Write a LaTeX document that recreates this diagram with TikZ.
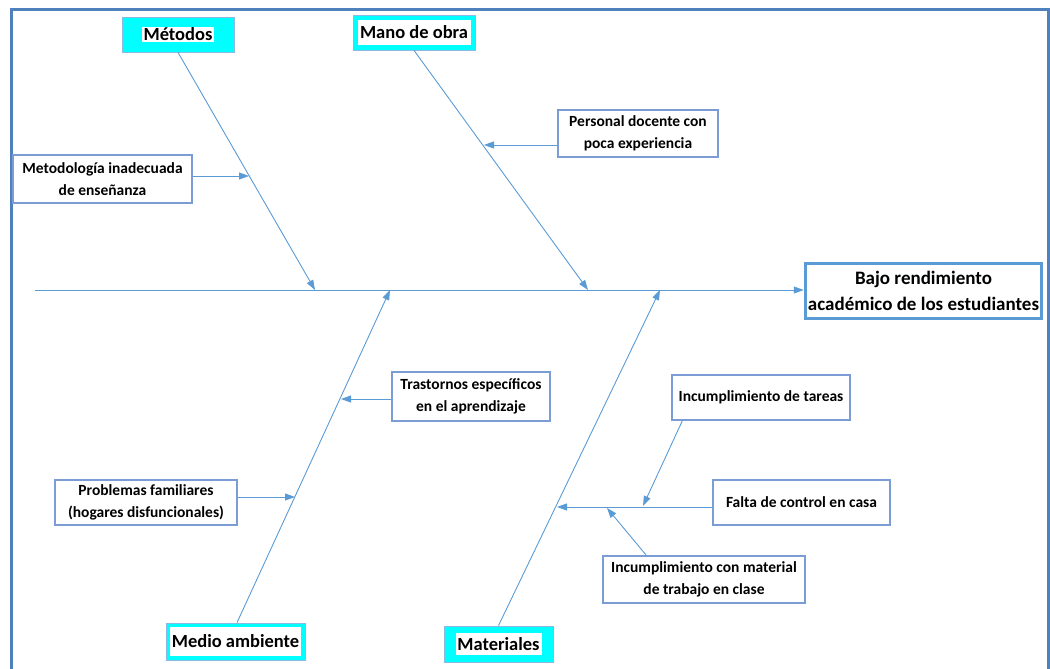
\documentclass[tikz,border=0pt]{standalone}
\usepackage{fontspec}
\setmainfont{Carlito}
\usetikzlibrary{arrows.meta,calc}
\definecolor{frameblue}{HTML}{4F81BD}
\definecolor{lineblue}{HTML}{5B9BD5}
\definecolor{boxblue}{HTML}{4472C4}
\definecolor{cyanfill}{HTML}{00FFFF}
\tikzset{
  bone/.style={draw=lineblue, line width=0.9pt},
  arr/.style={bone, -{Triangle[length=10pt,width=7pt]}},
  cause/.style={draw=boxblue!70, line width=1.2pt, fill=white, align=center,
    font=\bfseries\fontsize{15.5}{22}\selectfont, inner sep=0pt},
  catouter/.style={draw=lineblue!70, line width=0.8pt, fill=cyanfill, inner sep=0pt},
  catlabel/.style={fill=white, inner sep=1pt, font=\bfseries\fontsize{18.5}{20}\selectfont},
  effect/.style={draw=lineblue, line width=3.5pt, fill=white, align=center,
    font=\bfseries\fontsize{19}{26}\selectfont, inner sep=0pt}
}
\begin{document}
\begin{tikzpicture}[x=1pt,y=-1pt]
\useasboundingbox (0,0) rectangle (1050,669);
% frame
\draw[frameblue, line width=3pt] (11.5,669) -- (11.5,9.5) -- (1048,9.5) -- (1048,669);
% effect
\node[effect, minimum width=236pt, minimum height=55pt] (eff) at (923.5,291) {Bajo rendimiento\\académico de los estudiantes};
\coordinate (tail) at (35,290);
\draw[arr] (tail) -- (eff.west|-tail);
% categories
\node[catouter, minimum width=112pt, minimum height=35pt] (met) at (178,34.5) {};
\node[catlabel, inner xsep=2pt, inner ysep=1pt] at (met) {Métodos};
\node[catouter, minimum width=122pt, minimum height=35pt] (mano) at (414,32.5) {};
\node[catlabel, minimum width=113pt, minimum height=25pt] at (mano) {Mano de obra};
\node[catouter, minimum width=139pt, minimum height=37pt] (medio) at (235.5,641.5) {};
\node[catlabel, minimum width=131pt, minimum height=29pt] at (medio) {Medio ambiente};
\node[catouter, minimum width=109pt, minimum height=36pt] (mat) at (498.5,644) {};
\node[catlabel, minimum width=86pt, minimum height=22pt] at (mat) {Materiales};
% spine points
\coordinate (sMet) at (315,290);
\coordinate (sMano) at (588,290);
\coordinate (sMedio) at (390,290);
\coordinate (sMat) at (660,290);
\draw[arr] (met.south) -- (sMet);
\draw[arr] (mano.south) -- (sMano);
\draw[arr] ($(medio.north)+(1.5,0)$) -- (sMedio);
\draw[arr] (mat.north) -- (sMat);
% causes
\node[cause, minimum width=179pt, minimum height=48pt] (c1) at (102.5,179) {Metodología inadecuada\\de enseñanza};
\coordinate (p1) at (249,176);
\draw[arr] (c1.east|-p1) -- (p1);
\node[cause, minimum width=160pt, minimum height=47pt] (c2) at (638,133.5) {Personal docente con\\poca experiencia};
\coordinate (p2) at (484,145);
\draw[arr] (c2.west|-p2) -- (p2);
\node[cause, minimum width=158pt, minimum height=49pt] (c3) at (471,396.5) {Trastornos específicos\\en el aprendizaje};
\coordinate (p3) at (341,399);
\draw[arr] (c3.west|-p3) -- (p3);
\node[cause, minimum width=182pt, minimum height=45pt] (c4) at (146,502.5) {Problemas familiares\\(hogares disfuncionales)};
\coordinate (p4) at (295,497);
\draw[arr] (c4.east|-p4) -- (p4);
% materiales sub-branch
\node[cause, minimum width=178pt, minimum height=45pt] (c5) at (761,397.5) {Incumplimiento de tareas};
\node[cause, minimum width=177pt, minimum height=45pt] (c6) at (801.5,502.5) {Falta de control en casa};
\node[cause, minimum width=202pt, minimum height=47pt] (c7) at (704,579.5) {Incumplimiento con material\\de trabajo en clase};
\coordinate (p6) at (557,507);
\draw[arr] (c6.west|-p6) -- (p6);
\coordinate (p5) at (643,506);
\draw[arr] ($(c5.south west)+(11,0)$) -- (p5);
\coordinate (p7) at (607,508);
\draw[arr] ($(c7.north west)+(44,0)$) -- (p7);
\end{tikzpicture}
\end{document}
